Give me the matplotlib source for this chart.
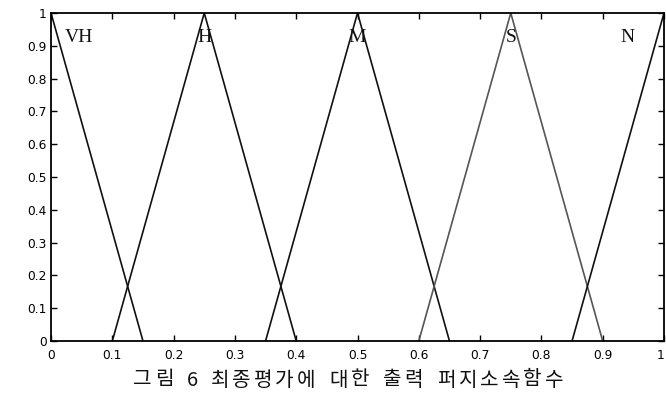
import matplotlib.pyplot as plt
import numpy as np

# triangular membership functions: (left foot, peak, right foot)
names = ['VH', 'H', 'M', 'S', 'N']
feet_l = [0.0, 0.10, 0.35, 0.60, 0.85]
peaks = [0.0, 0.25, 0.50, 0.75, 1.00]
feet_r = [0.15, 0.40, 0.65, 0.90, 1.00]
label_x = [0.045, 0.25, 0.50, 0.75, 0.94]
label_y = 0.925
line_colors = ['#111111', '#111111', '#111111', '#555555', '#111111']

xticks = [0, 0.1, 0.2, 0.3, 0.4, 0.5, 0.6, 0.7, 0.8, 0.9, 1]
yticks = [0, 0.1, 0.2, 0.3, 0.4, 0.5, 0.6, 0.7, 0.8, 0.9, 1]
caption = '그림 6 최종평가에 대한 출력 퍼지소속함수'

W, H = 666, 394
fig = plt.figure(figsize=(W / 100, H / 100), dpi=100)
ax = fig.add_axes([0.0766, 0.1345, 0.9204, 0.8325])

for a, b, c, col in zip(feet_l, peaks, feet_r, line_colors):
    xs = [a, b, c]
    ys = [0 if a != b else 1, 1, 0 if b != c else 1]
    ax.plot(xs, ys, color=col, lw=1.2)

for nm, lx in zip(names, label_x):
    ax.text(lx, label_y, nm, ha='center', va='center',
            family='Liberation Serif', fontsize=14, color='#111111')

ax.set_xlim(0, 1)
ax.set_ylim(0, 1)
ax.set_xticks(xticks)
ax.set_yticks(yticks)
ax.set_xticklabels([f'{v:g}' for v in xticks])
ax.set_yticklabels([f'{v:g}' for v in yticks])
ax.tick_params(direction='in', length=4, width=1, labelsize=8.8,
               top=True, right=True)
ax.tick_params(axis='x', pad=6)
ax.tick_params(axis='y', pad=3)
ax.get_xticklabels()[-1].set_ha('right')
for s in ax.spines.values():
    s.set_linewidth(1.3)

# caption is set with wide letter spacing, one glyph at a time
x_px = 132
for ch in caption:
    if ch == ' ':
        x_px += 11
        continue
    adv = 12 if ch.isdigit() else 21.5
    fig.text((x_px + adv / 2) / W, 1 - 380 / H, ch, ha='center', va='center',
             family=['Noto Sans CJK KR', 'DejaVu Sans'], fontsize=14.5,
             color='#111111')
    x_px += adv

fig.savefig('out.png', dpi=100)
